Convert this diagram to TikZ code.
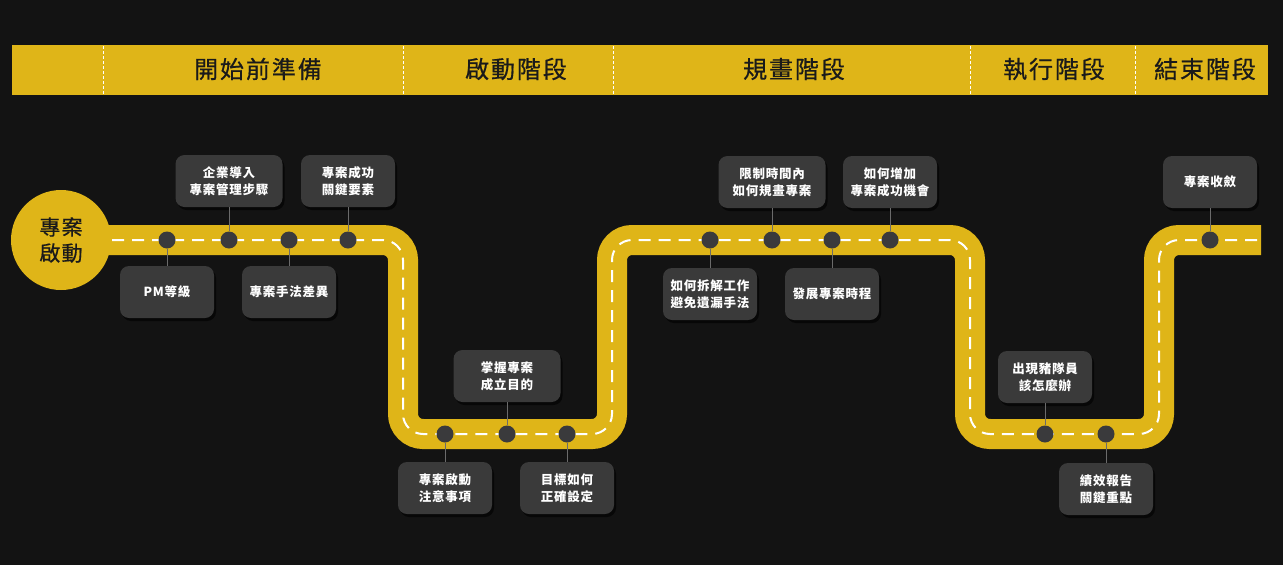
\documentclass[tikz,border=0pt]{standalone}
\usepackage{fontspec}
\setmainfont{Noto Sans CJK TC}
\usetikzlibrary{shadows}
\definecolor{bg}{HTML}{131313}
\definecolor{ylw}{HTML}{DFB518}
\definecolor{boxc}{HTML}{3A3A3A}
\definecolor{dotc}{HTML}{3A3A3C}
\definecolor{linec}{HTML}{6B6B6B}
\definecolor{txtdark}{HTML}{1A1A1A}
\begin{document}
\begin{tikzpicture}[x=1pt,y=-1pt,
 card/.style={fill=boxc, rounded corners=9pt, minimum width=94pt, minimum height=52pt, text=white, align=center,
   font=\fontsize{12.5}{17}\selectfont\bfseries\addfontfeatures{LetterSpace=6}, inner sep=0pt,
   drop shadow={shadow xshift=2pt, shadow yshift=-3pt, fill=black, opacity=0.6}},
 wide/.style={card, minimum width=107pt},
 stop/.style={circle, fill=dotc, minimum size=17pt, inner sep=0pt},
 tick/.style={draw=linec, line width=1pt},
 phase/.style={font=\fontsize{24}{24}\selectfont\addfontfeatures{LetterSpace=8,FakeBold=0.6}, text=txtdark},
 sep/.style={draw=white, line width=0.8pt, dash pattern=on 3pt off 2pt},
 road/.style={draw=ylw, line width=30pt, rounded corners=20pt},
 lane/.style={draw=white, line width=2pt, dash pattern=on 12pt off 8pt, rounded corners=20pt}]
\useasboundingbox (0,0) rectangle (1283,565);
\fill[bg] (0,0) rectangle (1283,565);
% header bar
\fill[ylw] (12,45) rectangle (1268,95);
\foreach \x in {103,403,613,970,1135} \draw[sep] (\x,46) -- (\x,94);
\node[phase] (p1) at (258,69) {開始前準備};
\node[phase] (p2) at (516,69) {啟動階段};
\node[phase] (p3) at (794,69) {規畫階段};
\node[phase] (p4) at (1054,69) {執行階段};
\node[phase] (p5) at (1205,69) {結束階段};
% road
\draw[road] (61,240) -- (403,240) -- (403,434) -- (612,434) -- (612,240) -- (970,240) -- (970,434) -- (1159,434) -- (1159,240) -- (1261,240);
\draw[lane] (112,240) -- (403,240) -- (403,434) -- (612,434) -- (612,240) -- (970,240) -- (970,434) -- (1159,434) -- (1159,240) -- (1261,240);
\node[circle, fill=ylw, minimum size=100pt, inner sep=0pt, align=center, text=txtdark,
  font=\fontsize{21}{26}\selectfont\addfontfeatures{LetterSpace=6,FakeBold=0.6}] (start) at (61,240) {專案\\啟動};
% stops
\node[stop] (d1) at (167,240) {};
\node[stop] (d2) at (229,240) {};
\node[stop] (d3) at (289,240) {};
\node[stop] (d4) at (348,240) {};
\node[stop] (d5) at (445,434) {};
\node[stop] (d6) at (507,434) {};
\node[stop] (d7) at (567,434) {};
\node[stop] (d8) at (710,240) {};
\node[stop] (d9) at (772,240) {};
\node[stop] (d10) at (832,240) {};
\node[stop] (d11) at (890,240) {};
\node[stop] (d12) at (1045,434) {};
\node[stop] (d13) at (1106,434) {};
\node[stop] (d14) at (1210,240) {};
% cards
\node[wide] (b2) at (229,181) {企業導入\\專案管理步驟};
\node[card] (b4) at (348,181) {專案成功\\關鍵要素};
\node[card] (b1) at (167,292) {PM等級};
\node[card] (b3) at (289,292) {專案手法差異};
\node[wide] (b6) at (507,376) {掌握專案\\成立目的};
\node[card] (b5) at (445,488) {專案啟動\\注意事項};
\node[card] (b7) at (567,488) {目標如何\\正確設定};
\node[wide] (b9) at (772,182) {限制時間內\\如何規畫專案};
\node[card] (b11) at (890,182) {如何增加\\專案成功機會};
\node[card] (b8) at (710,294) {如何拆解工作\\避免遺漏手法};
\node[card] (b10) at (832,294) {發展專案時程};
\node[card] (b12) at (1045,377) {出現豬隊員\\該怎麼辦};
\node[card] (b13) at (1106,489) {績效報告\\關鍵重點};
\node[card] (b14) at (1210,182) {專案收斂};
% connectors
\foreach \i in {1,...,14} \draw[tick] (b\i) -- (d\i);
\end{tikzpicture}
\end{document}
